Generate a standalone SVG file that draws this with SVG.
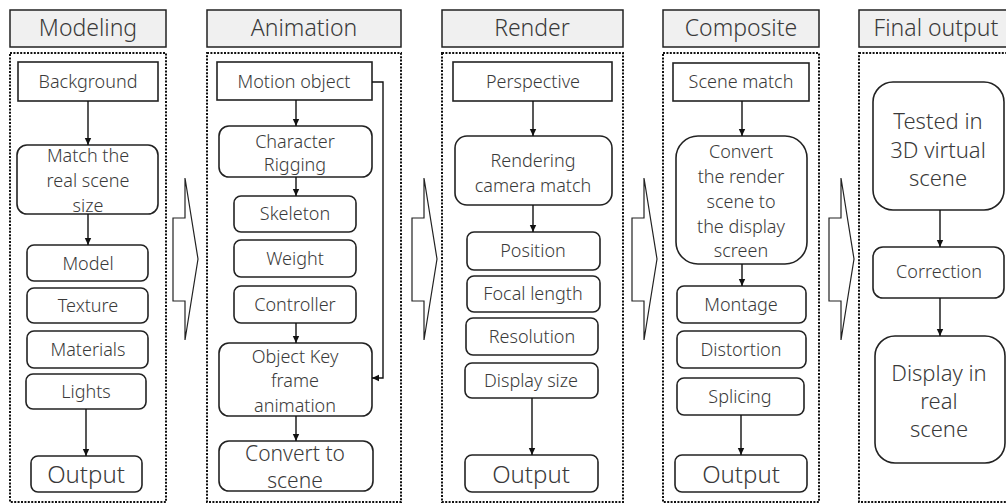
<svg xmlns="http://www.w3.org/2000/svg" width="1006" height="503" viewBox="0 0 1006 503">
  <style>
    .hdr { fill: #f0f0f0; stroke: #222; stroke-width: 1.5; }
    .grp { fill: none; stroke: #111; stroke-width: 2; stroke-dasharray: 2 1.4; }
    .box { fill: #fff; stroke: #222; stroke-width: 1.6; }
    .big { fill: #fff; stroke: #222; stroke-width: 1.2; }
    text { font-family: "Noto Sans", "Open Sans", sans-serif; font-weight: 300; fill: #3a3a3a; text-anchor: middle; }
    .h { font-size: 23px; }
    .t { font-size: 18px; }
    .m { font-size: 22px; }
    .c { font-size: 21px; }
    .o { font-size: 24px; }
    .ln { fill: none; stroke: #111; stroke-width: 1.4; marker-end: url(#ah); }
  </style>
  <defs>
    <marker id="ah" markerUnits="userSpaceOnUse" markerWidth="8" markerHeight="8" refX="7" refY="4" orient="auto">
      <path d="M0,0.8 L7,4 L0,7.2 Z" fill="#111"/>
    </marker>
  </defs>

  <rect width="1006" height="503" fill="#fff"/>

  <!-- stage headers and dotted frames -->
  <g id="stage-modeling">
    <rect class="hdr" x="10" y="10" width="156" height="37"/>
    <text class="h" x="88" y="36">Modeling</text>
    <rect class="grp" x="10" y="53" width="156" height="449"/>
  </g>
  <g id="stage-animation">
    <rect class="hdr" x="207" y="10" width="194" height="37"/>
    <text class="h" x="304" y="36">Animation</text>
    <rect class="grp" x="207" y="53" width="194" height="449"/>
  </g>
  <g id="stage-render">
    <rect class="hdr" x="442" y="10" width="181" height="37"/>
    <text class="h" x="532" y="36">Render</text>
    <rect class="grp" x="442" y="53" width="181" height="449"/>
  </g>
  <g id="stage-composite">
    <rect class="hdr" x="663" y="10" width="156" height="37"/>
    <text class="h" x="741" y="36">Composite</text>
    <rect class="grp" x="663" y="53" width="156" height="449"/>
  </g>
  <g id="stage-final">
    <rect class="hdr" x="859" y="10" width="160" height="37"/>
    <text class="h" x="936" y="36">Final output</text>
    <rect class="grp" x="859" y="53" width="160" height="449"/>
  </g>

  <!-- hollow arrows between stages -->
  <g id="flow-arrows">
    <polygon class="big" points="173,218 185,218 185,178 198,259 185,340 185,301 173,301"/>
    <polygon class="big" points="412,218 424,218 424,178 437,259 424,340 424,301 412,301"/>
    <polygon class="big" points="632,218 644,218 644,178 657,259 644,340 644,301 632,301"/>
    <polygon class="big" points="829,218 841,218 841,178 854,259 841,340 841,301 829,301"/>
  </g>

  <!-- Modeling nodes -->
  <g id="m-background">
    <rect class="box" x="18" y="62" width="140" height="39"/>
    <text class="t" x="88" y="88">Background</text>
  </g>
  <g id="m-match">
    <rect class="box" x="17" y="145" width="141" height="69" rx="10"/>
    <text class="t" x="88" y="162">Match the</text>
    <text class="t" x="88" y="187">real scene</text>
    <text class="t" x="88" y="212">size</text>
  </g>
  <g id="m-model">
    <rect class="box" x="27" y="245" width="121" height="36" rx="7"/>
    <text class="t" x="88" y="270">Model</text>
  </g>
  <g id="m-texture">
    <rect class="box" x="27" y="288" width="121" height="35" rx="7"/>
    <text class="t" x="88" y="312">Texture</text>
  </g>
  <g id="m-materials">
    <rect class="box" x="27" y="331" width="121" height="37" rx="7"/>
    <text class="t" x="88" y="356">Materials</text>
  </g>
  <g id="m-lights">
    <rect class="box" x="26" y="374" width="120" height="35" rx="7"/>
    <text class="t" x="86" y="398">Lights</text>
  </g>
  <g id="m-output">
    <rect class="box" x="31" y="456" width="111" height="36" rx="7"/>
    <text class="o" x="86" y="483">Output</text>
  </g>

  <!-- Animation nodes -->
  <g id="a-motion">
    <rect class="box" x="217" y="62" width="155" height="38"/>
    <text class="t" x="294" y="88">Motion object</text>
  </g>
  <g id="a-rigging">
    <rect class="box" x="219" y="126" width="153" height="51" rx="10"/>
    <text class="t" x="295" y="148">Character</text>
    <text class="t" x="295" y="171">Rigging</text>
  </g>
  <g id="a-skeleton">
    <rect class="box" x="234" y="196" width="122" height="36" rx="7"/>
    <text class="t" x="295" y="220">Skeleton</text>
  </g>
  <g id="a-weight">
    <rect class="box" x="234" y="240" width="122" height="37" rx="7"/>
    <text class="t" x="295" y="265">Weight</text>
  </g>
  <g id="a-controller">
    <rect class="box" x="234" y="286" width="122" height="37" rx="7"/>
    <text class="t" x="295" y="311">Controller</text>
  </g>
  <g id="a-keyframe">
    <rect class="box" x="219" y="343" width="153" height="73" rx="10"/>
    <text class="t" x="295" y="363">Object Key</text>
    <text class="t" x="295" y="387">frame</text>
    <text class="t" x="295" y="412">animation</text>
  </g>
  <g id="a-convert">
    <rect class="box" x="219" y="441" width="154" height="50" rx="10"/>
    <text class="c" x="295" y="461">Convert to</text>
    <text class="c" x="295" y="488">scene</text>
  </g>

  <!-- Render nodes -->
  <g id="r-perspective">
    <rect class="box" x="453" y="62" width="159" height="39"/>
    <text class="t" x="533" y="88">Perspective</text>
  </g>
  <g id="r-camera">
    <rect class="box" x="455" y="136" width="157" height="69" rx="12"/>
    <text class="t" x="533" y="167">Rendering</text>
    <text class="t" x="533" y="192">camera match</text>
  </g>
  <g id="r-position">
    <rect class="box" x="467" y="232" width="133" height="38" rx="7"/>
    <text class="t" x="533" y="257">Position</text>
  </g>
  <g id="r-focal">
    <rect class="box" x="467" y="276" width="133" height="36" rx="7"/>
    <text class="t" x="533" y="300">Focal length</text>
  </g>
  <g id="r-resolution">
    <rect class="box" x="466" y="318" width="132" height="37" rx="7"/>
    <text class="t" x="532" y="343">Resolution</text>
  </g>
  <g id="r-display">
    <rect class="box" x="465" y="363" width="133" height="35" rx="7"/>
    <text class="t" x="531" y="387">Display size</text>
  </g>
  <g id="r-output">
    <rect class="box" x="465" y="455" width="133" height="37" rx="7"/>
    <text class="o" x="531" y="483">Output</text>
  </g>

  <!-- Composite nodes -->
  <g id="c-scene">
    <rect class="box" x="673" y="63" width="136" height="38"/>
    <text class="t" x="741" y="88">Scene match</text>
  </g>
  <g id="c-convert">
    <rect class="box" x="676" y="136" width="131" height="128" rx="22"/>
    <text class="t" x="741" y="158">Convert</text>
    <text class="t" x="741" y="183">the render</text>
    <text class="t" x="741" y="208">scene to</text>
    <text class="t" x="741" y="233">the display</text>
    <text class="t" x="741" y="257">screen</text>
  </g>
  <g id="c-montage">
    <rect class="box" x="677" y="286" width="129" height="37" rx="7"/>
    <text class="t" x="741" y="311">Montage</text>
  </g>
  <g id="c-distortion">
    <rect class="box" x="677" y="331" width="129" height="37" rx="7"/>
    <text class="t" x="741" y="356">Distortion</text>
  </g>
  <g id="c-splicing">
    <rect class="box" x="677" y="378" width="127" height="37" rx="7"/>
    <text class="t" x="740" y="403">Splicing</text>
  </g>
  <g id="c-output">
    <rect class="box" x="675" y="455" width="132" height="37" rx="7"/>
    <text class="o" x="741" y="483">Output</text>
  </g>

  <!-- Final output nodes -->
  <g id="f-tested">
    <rect class="box" x="873" y="82" width="131" height="128" rx="20"/>
    <text class="m" x="938" y="129">Tested in</text>
    <text class="m" x="938" y="158">3D virtual</text>
    <text class="m" x="938" y="186">scene</text>
  </g>
  <g id="f-correction">
    <rect class="box" x="873" y="247" width="131" height="51" rx="10"/>
    <text class="t" x="939" y="278">Correction</text>
  </g>
  <g id="f-display">
    <rect class="box" x="875" y="336" width="130" height="127" rx="20"/>
    <text class="m" x="939" y="381">Display in</text>
    <text class="m" x="939" y="409">real</text>
    <text class="m" x="939" y="437">scene</text>
  </g>

  <!-- connectors -->
  <g id="connectors">
    <line class="ln" x1="88" y1="101" x2="88" y2="145"/>
    <line class="ln" x1="88" y1="214" x2="88" y2="245"/>
    <line class="ln" x1="86" y1="409" x2="86" y2="456"/>

    <line class="ln" x1="296" y1="100" x2="296" y2="126"/>
    <line class="ln" x1="296" y1="177" x2="296" y2="196"/>
    <line class="ln" x1="296" y1="323" x2="296" y2="343"/>
    <line class="ln" x1="296" y1="416" x2="296" y2="441"/>
    <polyline class="ln" points="372,82 383,82 383,378 372,378"/>

    <line class="ln" x1="533" y1="101" x2="533" y2="136"/>
    <line class="ln" x1="533" y1="205" x2="533" y2="232"/>
    <line class="ln" x1="532" y1="398" x2="532" y2="455"/>

    <line class="ln" x1="742" y1="101" x2="742" y2="136"/>
    <line class="ln" x1="742" y1="264" x2="742" y2="286"/>
    <line class="ln" x1="741" y1="415" x2="741" y2="455"/>

    <line class="ln" x1="940" y1="210" x2="940" y2="247"/>
    <line class="ln" x1="940" y1="298" x2="940" y2="336"/>
  </g>
</svg>
